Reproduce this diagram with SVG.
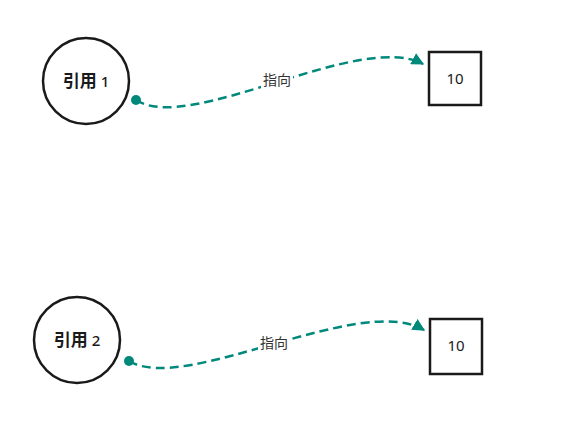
<svg xmlns="http://www.w3.org/2000/svg" width="573" height="437" viewBox="0 0 573 437">
<style>
.node{fill:#fff;stroke:#1a1a1a;stroke-width:2.5}
.lbl{font-family:"Noto Sans CJK SC","Noto Sans",sans-serif;font-size:17px;font-weight:bold;fill:#1a1a1a;text-anchor:middle}
.dig{font-family:"Noto Sans",sans-serif;font-size:15px;font-weight:500}
.num{font-family:"Noto Sans","Noto Sans CJK SC",sans-serif;font-size:15px;fill:#1a1a1a;text-anchor:middle}
.edge{fill:none;stroke:#00897b;stroke-width:2.5;stroke-dasharray:9 5}
.elbl{font-family:"Noto Sans CJK SC","Noto Sans",sans-serif;font-size:14px;fill:#333;text-anchor:middle}
.bg{fill:#fff}
</style>
<defs>
<marker id="arr" viewBox="0 0 10 10" refX="9" refY="5" markerWidth="5" markerHeight="5" orient="auto" markerUnits="strokeWidth">
<path d="M0,0 L10,5 L0,10 Z" fill="#00897b"/>
</marker>
<marker id="dot" viewBox="0 0 10 10" refX="5" refY="5" markerWidth="4" markerHeight="4" markerUnits="strokeWidth">
<circle cx="5" cy="5" r="5" fill="#00897b"/>
</marker>
</defs>
<rect width="573" height="437" fill="#fff"/>
<g id="connectors">
<path class="edge" d="M136,100 C190,135 360,30 423,64" marker-start="url(#dot)" marker-end="url(#arr)"/>
<rect class="bg" x="261" y="71" width="32" height="18"/>
<text class="elbl" x="277" y="85">指向</text>
<path class="edge" d="M129,361 C185,395 360,292 424,330" marker-start="url(#dot)" marker-end="url(#arr)"/>
<rect class="bg" x="258" y="334" width="32" height="18"/>
<text class="elbl" x="274" y="348">指向</text>
</g>
<g id="ref1">
<circle class="node" cx="86" cy="81" r="43"/>
<text class="lbl" x="86" y="87">引用 <tspan class="dig">1</tspan></text>
</g>
<g id="val1">
<rect class="node" x="429" y="52" width="52" height="53"/>
<text class="num" x="455" y="84">10</text>
</g>
<g id="ref2">
<circle class="node" cx="77" cy="340" r="43"/>
<text class="lbl" x="77" y="346">引用 <tspan class="dig">2</tspan></text>
</g>
<g id="val2">
<rect class="node" x="430" y="319" width="52" height="55"/>
<text class="num" x="456" y="351">10</text>
</g>
</svg>
